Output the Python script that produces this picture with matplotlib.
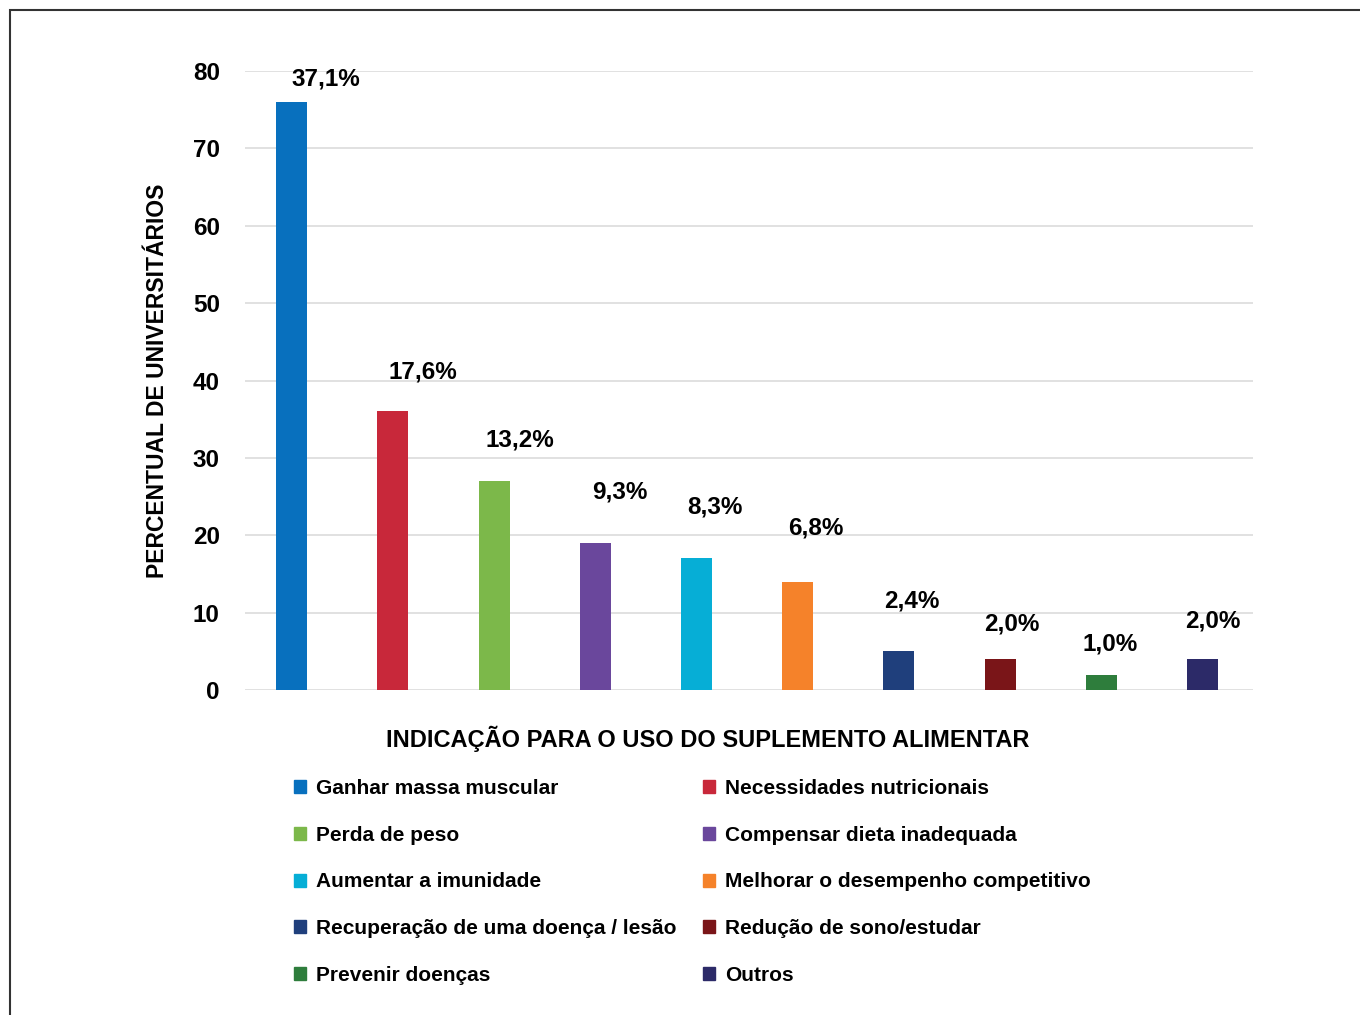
import matplotlib
matplotlib.use('Agg')
import matplotlib.pyplot as plt
from matplotlib.patches import Patch, Rectangle

# data
categories = ['Ganhar massa muscular', 'Necessidades nutricionais', 'Perda de peso',
              'Compensar dieta inadequada', 'Aumentar a imunidade',
              'Melhorar o desempenho competitivo', 'Recuperação de uma doença / lesão',
              'Redução de sono/estudar', 'Prevenir doenças', 'Outros']
counts = [76, 36, 27, 19, 17, 14, 5, 4, 2, 4]
pct_labels = ['37,1%', '17,6%', '13,2%', '9,3%', '8,3%', '6,8%', '2,4%', '2,0%', '1,0%', '2,0%']
colors = ['#0870BE', '#C8283A', '#7CB84A', '#6A479C', '#06AED6',
          '#F5822A', '#1F3F7C', '#7A1518', '#2E7D3C', '#2C2A68']
yticks = [0, 10, 20, 30, 40, 50, 60, 70, 80]

# label offsets (pixels) relative to bar tops, as placed in the original
lab_dx = [34, 30, 26, 24, 18, 18, 13, 12, 9, 10]
lab_dy = [23, 39, 41, 51, 51, 54, 50, 35, 31, 38]

FONT = 'Liberation Sans'

fig = plt.figure(figsize=(13.6, 10.15), dpi=100)
ax = fig.add_axes([0.180, 0.3202, 0.741, 0.6098])

x = range(len(categories))
ax.bar(x, counts, width=0.306, color=colors, zorder=3)
ax.set_xlim(-0.464, 9.494)
ax.set_ylim(0, 80)
ax.set_yticks(yticks)
ax.set_xticks([])
ax.tick_params(axis='y', length=0, pad=18)
for t in ax.get_yticklabels():
    t.set_fontfamily(FONT)
    t.set_fontweight('bold')
    t.set_fontsize(17.5)
ax.grid(axis='y', color='#dcdcdc', lw=1.2, zorder=0)
for s in ax.spines.values():
    s.set_visible(False)

for i, (c, lab) in enumerate(zip(counts, pct_labels)):
    ax.annotate(lab, (i, c), xytext=(lab_dx[i], lab_dy[i]), textcoords='offset pixels',
                ha='center', va='center', fontsize=17.5, fontweight='bold', family=FONT)

fig.text(157 / 1360, 1 - 381 / 1015, 'PERCENTUAL DE UNIVERSITÁRIOS', rotation=90,
         ha='center', va='center', fontsize=16.5, fontweight='bold', family=FONT)

fig.text(708 / 1360, 1 - 739 / 1015, 'INDICAÇÃO PARA O USO DO SUPLEMENTO ALIMENTAR',
         ha='center', va='center', fontsize=17, fontweight='bold', family=FONT)

# legend in two columns, placed separately
leg_kw = dict(loc='upper left', frameon=False, handlelength=0.58, handleheight=0.58,
              handletextpad=0.48, labelspacing=1.33, borderpad=0, borderaxespad=0,
              prop={'family': FONT, 'weight': 'bold', 'size': 15})
col1 = [Patch(color=colors[i], label=categories[i]) for i in [0, 2, 4, 6, 8]]
col2 = [Patch(color=colors[i], label=categories[i]) for i in [1, 3, 5, 7, 9]]
leg1 = fig.legend(handles=col1, bbox_to_anchor=(294 / 1360, 1 - 779 / 1015), **leg_kw)
leg2 = fig.legend(handles=col2, bbox_to_anchor=(703 / 1360, 1 - 779 / 1015), **leg_kw)

fig.add_artist(Rectangle((10 / 1360, -0.05), 1.2, 1.05 - 10 / 1015, transform=fig.transFigure,
                         fill=False, ec='#333333', lw=1.5))

fig.savefig('out.png', dpi=100)
